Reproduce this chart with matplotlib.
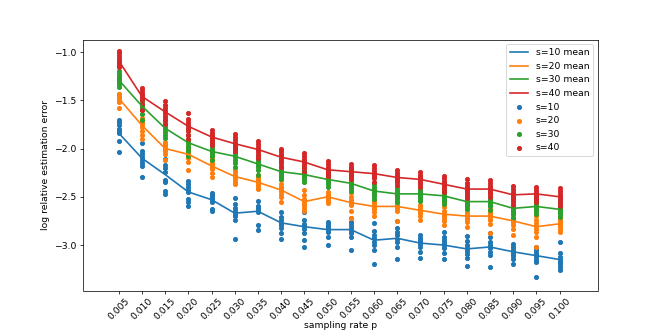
import numpy as np
import matplotlib
matplotlib.use("Agg")
import matplotlib.pyplot as plt

p_values = [0.005, 0.010, 0.015, 0.020, 0.025, 0.030, 0.035, 0.040, 0.045, 0.050,
            0.055, 0.060, 0.065, 0.070, 0.075, 0.080, 0.085, 0.090, 0.095, 0.100]
tick_labels = ["%.3f" % v for v in p_values]

mean_s10 = [-1.84, -2.10, -2.27, -2.45, -2.53, -2.67, -2.65, -2.77, -2.81, -2.84,
            -2.84, -2.95, -2.93, -2.98, -3.00, -3.04, -3.02, -3.07, -3.11, -3.15]
mean_s20 = [-1.48, -1.76, -2.00, -2.06, -2.18, -2.29, -2.35, -2.43, -2.55, -2.50,
            -2.56, -2.60, -2.60, -2.64, -2.68, -2.70, -2.70, -2.75, -2.81, -2.78]
mean_s30 = [-1.29, -1.56, -1.79, -1.94, -2.03, -2.08, -2.16, -2.24, -2.27, -2.32,
            -2.36, -2.44, -2.47, -2.47, -2.49, -2.55, -2.55, -2.62, -2.60, -2.63]
mean_s40 = [-1.09, -1.46, -1.62, -1.77, -1.88, -1.95, -2.01, -2.09, -2.14, -2.22,
            -2.24, -2.26, -2.30, -2.32, -2.37, -2.42, -2.42, -2.48, -2.47, -2.50]

pts_s10 = [
    [-1.70, -1.73, -1.76, -1.80, -1.82, -1.84, -1.92, -2.04],
    [-1.94, -2.03, -2.06, -2.09, -2.12, -2.15, -2.18, -2.29],
    [-2.11, -2.17, -2.20, -2.24, -2.33, -2.35, -2.44, -2.47],
    [-2.34, -2.37, -2.40, -2.43, -2.45, -2.52, -2.55, -2.60],
    [-2.46, -2.48, -2.50, -2.52, -2.53, -2.55, -2.63, -2.65],
    [-2.51, -2.57, -2.62, -2.65, -2.68, -2.70, -2.74, -2.94],
    [-2.54, -2.60, -2.62, -2.63, -2.65, -2.66, -2.79, -2.84],
    [-2.66, -2.71, -2.74, -2.77, -2.79, -2.82, -2.88, -2.94],
    [-2.66, -2.74, -2.78, -2.80, -2.83, -2.88, -2.95, -3.02],
    [-2.76, -2.78, -2.80, -2.82, -2.85, -2.87, -2.92, -3.00],
    [-2.72, -2.76, -2.79, -2.82, -2.85, -2.88, -2.92, -3.05],
    [-2.77, -2.85, -2.90, -2.93, -2.97, -3.00, -3.05, -3.20],
    [-2.75, -2.82, -2.86, -2.90, -2.94, -2.97, -3.02, -3.14],
    [-2.90, -2.93, -2.95, -2.97, -2.99, -3.02, -3.07, -3.13],
    [-2.87, -2.92, -2.95, -2.98, -3.00, -3.03, -3.08, -3.14],
    [-2.91, -2.96, -3.00, -3.03, -3.06, -3.09, -3.13, -3.22],
    [-2.88, -2.92, -2.97, -3.00, -3.03, -3.07, -3.10, -3.23],
    [-2.99, -3.02, -3.05, -3.07, -3.09, -3.11, -3.14, -3.20],
    [-3.02, -3.05, -3.08, -3.10, -3.12, -3.15, -3.18, -3.33],
    [-2.97, -3.08, -3.12, -3.15, -3.18, -3.20, -3.23, -3.26],
]
pts_s20 = [
    [-1.43, -1.44, -1.45, -1.47, -1.49, -1.50, -1.52, -1.58],
    [-1.68, -1.70, -1.73, -1.75, -1.78, -1.82, -1.86, -1.90],
    [-1.93, -1.95, -1.97, -1.99, -2.01, -2.03, -2.06, -2.12],
    [-1.92, -1.97, -2.01, -2.04, -2.07, -2.10, -2.14, -2.22],
    [-2.09, -2.12, -2.15, -2.17, -2.19, -2.21, -2.25, -2.30],
    [-2.20, -2.23, -2.26, -2.28, -2.30, -2.32, -2.35, -2.37],
    [-2.27, -2.30, -2.32, -2.34, -2.36, -2.38, -2.40, -2.42],
    [-2.33, -2.37, -2.40, -2.42, -2.44, -2.47, -2.50, -2.55],
    [-2.43, -2.48, -2.52, -2.55, -2.57, -2.59, -2.62, -2.65],
    [-2.45, -2.47, -2.48, -2.50, -2.51, -2.52, -2.54, -2.56],
    [-2.46, -2.50, -2.53, -2.55, -2.57, -2.59, -2.65, -2.72],
    [-2.54, -2.56, -2.58, -2.60, -2.61, -2.63, -2.66, -2.70],
    [-2.48, -2.55, -2.58, -2.59, -2.60, -2.62, -2.65, -2.75],
    [-2.58, -2.61, -2.62, -2.63, -2.65, -2.67, -2.70, -2.74],
    [-2.56, -2.61, -2.65, -2.68, -2.70, -2.72, -2.75, -2.79],
    [-2.63, -2.66, -2.68, -2.70, -2.71, -2.73, -2.76, -2.81],
    [-2.63, -2.66, -2.68, -2.70, -2.72, -2.74, -2.78, -2.88],
    [-2.66, -2.70, -2.72, -2.74, -2.76, -2.79, -2.83, -2.90],
    [-2.70, -2.74, -2.77, -2.80, -2.83, -2.86, -2.92, -3.02],
    [-2.71, -2.74, -2.76, -2.78, -2.79, -2.81, -2.84, -2.87],
]
pts_s30 = [
    [-1.20, -1.23, -1.25, -1.27, -1.29, -1.31, -1.33, -1.36],
    [-1.47, -1.50, -1.53, -1.55, -1.57, -1.60, -1.64, -1.70],
    [-1.68, -1.72, -1.75, -1.78, -1.80, -1.83, -1.86, -1.89],
    [-1.80, -1.86, -1.90, -1.93, -1.96, -1.99, -2.03, -2.08],
    [-1.94, -1.97, -2.00, -2.02, -2.04, -2.06, -2.08, -2.12],
    [-1.98, -2.02, -2.05, -2.07, -2.09, -2.12, -2.15, -2.19],
    [-2.08, -2.11, -2.13, -2.15, -2.17, -2.19, -2.22, -2.27],
    [-2.14, -2.18, -2.21, -2.23, -2.25, -2.27, -2.29, -2.32],
    [-2.19, -2.22, -2.24, -2.26, -2.28, -2.30, -2.32, -2.35],
    [-2.26, -2.28, -2.30, -2.32, -2.33, -2.35, -2.37, -2.40],
    [-2.28, -2.31, -2.34, -2.36, -2.37, -2.39, -2.41, -2.44],
    [-2.37, -2.40, -2.42, -2.44, -2.45, -2.47, -2.49, -2.52],
    [-2.40, -2.43, -2.45, -2.47, -2.48, -2.50, -2.52, -2.55],
    [-2.40, -2.43, -2.45, -2.47, -2.48, -2.50, -2.52, -2.54],
    [-2.42, -2.45, -2.47, -2.49, -2.50, -2.52, -2.54, -2.57],
    [-2.47, -2.50, -2.53, -2.55, -2.56, -2.58, -2.60, -2.63],
    [-2.46, -2.50, -2.52, -2.54, -2.56, -2.58, -2.60, -2.64],
    [-2.52, -2.56, -2.59, -2.61, -2.63, -2.65, -2.68, -2.72],
    [-2.51, -2.54, -2.57, -2.59, -2.61, -2.63, -2.65, -2.68],
    [-2.55, -2.58, -2.60, -2.62, -2.64, -2.66, -2.68, -2.71],
]
pts_s40 = [
    [-0.99, -1.01, -1.04, -1.07, -1.09, -1.11, -1.13, -1.16],
    [-1.37, -1.40, -1.43, -1.45, -1.47, -1.50, -1.54, -1.60],
    [-1.51, -1.55, -1.58, -1.61, -1.63, -1.66, -1.70, -1.75],
    [-1.63, -1.69, -1.73, -1.76, -1.79, -1.82, -1.86, -1.90],
    [-1.81, -1.84, -1.86, -1.88, -1.89, -1.91, -1.93, -1.96],
    [-1.85, -1.88, -1.91, -1.94, -1.96, -1.98, -2.00, -2.03],
    [-1.92, -1.95, -1.98, -2.00, -2.02, -2.04, -2.07, -2.10],
    [-2.00, -2.03, -2.06, -2.08, -2.10, -2.12, -2.15, -2.19],
    [-2.05, -2.08, -2.11, -2.13, -2.15, -2.17, -2.20, -2.24],
    [-2.13, -2.16, -2.19, -2.21, -2.23, -2.25, -2.27, -2.30],
    [-2.16, -2.19, -2.21, -2.23, -2.25, -2.27, -2.29, -2.32],
    [-2.17, -2.20, -2.23, -2.25, -2.27, -2.29, -2.31, -2.35],
    [-2.22, -2.25, -2.27, -2.29, -2.31, -2.33, -2.35, -2.38],
    [-2.24, -2.27, -2.29, -2.31, -2.33, -2.35, -2.37, -2.40],
    [-2.28, -2.31, -2.34, -2.36, -2.38, -2.40, -2.42, -2.45],
    [-2.32, -2.36, -2.39, -2.41, -2.43, -2.45, -2.48, -2.51],
    [-2.33, -2.36, -2.39, -2.41, -2.43, -2.45, -2.47, -2.50],
    [-2.39, -2.42, -2.45, -2.47, -2.49, -2.51, -2.54, -2.58],
    [-2.40, -2.43, -2.45, -2.47, -2.48, -2.50, -2.52, -2.55],
    [-2.41, -2.44, -2.47, -2.49, -2.51, -2.53, -2.56, -2.60],
]

series_names = ["s=10", "s=20", "s=30", "s=40"]
colors = ["#1f77b4", "#ff7f0e", "#2ca02c", "#d62728"]
means = [mean_s10, mean_s20, mean_s30, mean_s40]
points = [pts_s10, pts_s20, pts_s30, pts_s40]

fig, ax = plt.subplots(figsize=(10, 5), dpi=66.4)
fig.subplots_adjust(left=0.125, right=0.9, top=0.88, bottom=0.125)

for name, col, m in zip(series_names, colors, means):
    ax.plot(p_values, m, color=col, lw=1.8, label=name + " mean")

for name, col, pts in zip(series_names, colors, points):
    xs = []
    ys = []
    for xv, col_pts in zip(p_values, pts):
        xs.extend([xv] * len(col_pts))
        ys.extend(col_pts)
    ax.scatter(xs, ys, color=col, s=20, label=name)

ax.set_xticks(p_values)
ax.set_xticklabels(tick_labels, rotation=45)
ax.tick_params(axis="x", pad=2.5)
ax.set_xlim(-0.0027, 0.1082)
ax.set_ylim(-3.471, -0.874)
ax.set_xlabel("sampling rate p", labelpad=0)
ax.set_ylabel("log relative estimation error")
ax.legend(loc="upper right")

fig.savefig("out.png", dpi=66.4)
